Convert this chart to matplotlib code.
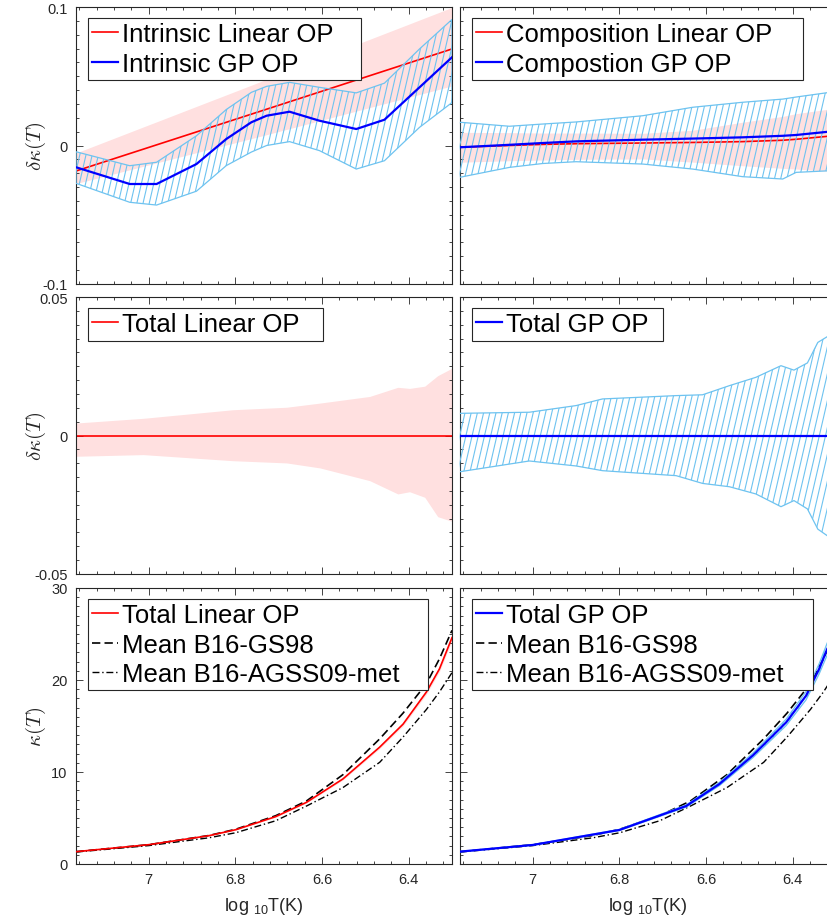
import numpy as np
import matplotlib
matplotlib.use('Agg')
import matplotlib.pyplot as plt
from matplotlib.ticker import MultipleLocator, FixedLocator, FuncFormatter
from matplotlib.collections import LineCollection

plt.rcParams['font.family'] = ['Liberation Sans', 'DejaVu Sans']
plt.rcParams['mathtext.fontset'] = 'custom'
plt.rcParams['mathtext.rm'] = 'Liberation Sans'
plt.rcParams['mathtext.it'] = 'Liberation Sans:italic'
plt.rcParams['axes.unicode_minus'] = False

# ---- data ----
# row 1, intrinsic
int_lin_T = [7.168, 6.728, 6.300]
int_lin = [-0.0184, 0.0262, 0.0697]
int_lin_hi = [-0.0054, 0.0478, 0.0997]
int_lin_lo = [-0.0275, 0.0078, 0.0430]

int_gp_T = [7.168, 7.044, 6.982, 6.890, 6.821, 6.763, 6.728, 6.675, 6.606, 6.521, 6.456, 6.375, 6.300]
int_gp = [-0.0157, -0.0278, -0.0278, -0.0134, 0.0047, 0.0168, 0.0215, 0.0244, 0.0179, 0.0119, 0.0186, 0.0420, 0.0637]
int_gp_hi = [-0.0045, -0.0146, -0.0121, 0.0070, 0.0260, 0.0384, 0.0427, 0.0456, 0.0420, 0.0380, 0.0450, 0.0697, 0.0910]
int_gp_lo = [-0.0273, -0.0410, -0.0430, -0.0330, -0.0145, -0.0047, 0.0000, 0.0028, -0.0037, -0.0170, -0.0110, 0.0131, 0.0310]

# row 1, composition
comp_T = [7.169, 7.054, 6.977, 6.900, 6.746, 6.631, 6.516, 6.423, 6.392, 6.300]
comp_lin = [-0.0013, 0.0000, 0.0008, 0.0013, 0.0018, 0.0022, 0.0028, 0.0038, 0.0045, 0.0072]
comp_lin_hi = [0.0095, 0.0093, 0.0090, 0.0090, 0.0088, 0.0110, 0.0168, 0.0210, 0.0230, 0.0270]
comp_lin_lo = [-0.0121, -0.0110, -0.0105, -0.0100, -0.0097, -0.0120, -0.0146, -0.0165, -0.0170, -0.0190]
comp_gp = [-0.0013, 0.0005, 0.0018, 0.0030, 0.0042, 0.0050, 0.0059, 0.0070, 0.0076, 0.0105]
comp_gp_hi = [0.0168, 0.0139, 0.0155, 0.0170, 0.0215, 0.0276, 0.0312, 0.0335, 0.0350, 0.0390]
comp_gp_lo = [-0.0230, -0.0158, -0.0130, -0.0117, -0.0134, -0.0170, -0.0225, -0.0242, -0.0194, -0.0180]

# row 2, total
tot_lin_T = [7.168, 7.013, 6.806, 6.682, 6.605, 6.490, 6.425, 6.398, 6.363, 6.333, 6.300]
tot_lin = [0, 0, 0, 0, 0, 0, 0, 0, 0, 0, 0]
tot_lin_hi = [0.0045, 0.0062, 0.0093, 0.0102, 0.0117, 0.0141, 0.0174, 0.0170, 0.0178, 0.0216, 0.0243]
tot_lin_lo = [-0.0075, -0.0069, -0.0091, -0.0099, -0.0117, -0.0163, -0.0211, -0.0203, -0.0223, -0.0293, -0.0310]

tot_gp_T = [7.169, 7.008, 6.900, 6.839, 6.669, 6.608, 6.546, 6.485, 6.427, 6.397, 6.366, 6.342, 6.320, 6.300]
tot_gp = [0, 0, 0, 0, 0, 0, 0, 0, 0, 0, 0, 0, 0, 0]
tot_gp_hi = [0.0080, 0.0084, 0.0108, 0.0132, 0.0144, 0.0147, 0.0180, 0.0210, 0.0252, 0.0236, 0.0262, 0.0336, 0.0357, 0.0370]
tot_gp_lo = [-0.0131, -0.0092, -0.0110, -0.0127, -0.0145, -0.0173, -0.0185, -0.0211, -0.0257, -0.0235, -0.0265, -0.0338, -0.0362, -0.0370]

# row 3, kappa
kap_T = [7.168, 7.000, 6.861, 6.799, 6.707, 6.636, 6.552, 6.467, 6.413, 6.359, 6.329, 6.300]
kap_lin = [1.34, 2.10, 3.08, 3.73, 5.15, 6.70, 9.24, 12.7, 15.2, 18.7, 21.2, 24.6]
kap_lin_err = [0.02, 0.03, 0.04, 0.05, 0.07, 0.09, 0.12, 0.16, 0.2, 0.25, 0.3, 0.35]
kap_gs98 = [1.34, 2.10, 3.10, 3.78, 5.25, 6.85, 9.70, 13.6, 16.4, 19.6, 22.3, 25.4]
kap_agss = [1.30, 2.00, 2.85, 3.40, 4.70, 6.30, 8.30, 11.05, 13.8, 16.8, 18.7, 20.8]

kap_gp_T = [7.169, 7.000, 6.800, 6.646, 6.569, 6.492, 6.415, 6.369, 6.339, 6.320, 6.300]
kap_gp = [1.34, 2.07, 3.70, 6.30, 8.70, 11.8, 15.4, 18.3, 21.2, 23.4, 25.0]
kap_gp_err = [0.02, 0.03, 0.06, 0.12, 0.18, 0.25, 0.35, 0.45, 0.55, 0.65, 0.75]

xticks = [7, 6.8, 6.6, 6.4]

PINK = '#FFE0E0'
HATCH = '#6EC3F0'
RED = '#FF0000'
BLUE = '#0000FF'
AXC = '#262626'


def hatch_band(ax, x, lo, hi):
    band = ax.fill_between(x, lo, hi, facecolor='none', edgecolor=HATCH, lw=0.9, zorder=3)
    step = 6.2 / 376
    segs = [[(t, 0), (t + 0.17, 1)] for t in np.arange(-0.3, 1.1, step)]
    lc = LineCollection(segs, colors=HATCH, linewidths=0.8, transform=ax.transAxes, zorder=3)
    path = band.get_paths()[0]
    lc.set_clip_path(path, ax.transData)
    ax.add_collection(lc)


def fmt(v, pos):
    return '%g' % v


def style(ax, ylim, ymajor, yminor, show_y, show_x):
    ax.set_xlim(7.168, 6.30)
    ax.set_ylim(*ylim)
    ax.xaxis.set_major_locator(FixedLocator(xticks))
    ax.xaxis.set_minor_locator(MultipleLocator(0.04))
    ax.yaxis.set_major_locator(FixedLocator(ymajor))
    ax.yaxis.set_minor_locator(MultipleLocator(yminor))
    ax.yaxis.set_major_formatter(FuncFormatter(fmt))
    ax.xaxis.set_major_formatter(FuncFormatter(fmt))
    ax.tick_params(which='both', direction='in', top=True, right=True, color=AXC,
                   labelcolor=AXC, labelsize=10.5, pad=6, width=0.6)
    ax.tick_params(which='major', length=5)
    ax.tick_params(which='minor', length=2.5)
    if not show_y:
        ax.tick_params(labelleft=False)
    if not show_x:
        ax.tick_params(labelbottom=False)
    for sp in ax.spines.values():
        sp.set_color(AXC)
        sp.set_linewidth(0.8)


def legend(ax, width):
    leg = ax.legend(loc='upper left', bbox_to_anchor=(0.032, 0.959, width, 0.0), mode='expand',
                    borderaxespad=0, fontsize=18.5, handlelength=1.0, handletextpad=0.15,
                    labelspacing=0.2, borderpad=0.16, fancybox=False, framealpha=1,
                    edgecolor=AXC)
    leg.get_frame().set_linewidth(0.8)
    leg.set_zorder(10)
    return leg


fig = plt.figure(figsize=(8.28, 9.2), dpi=100)
W = 376 / 828
lefts = [76 / 828, 460 / 828]
bottoms = [(920 - 285) / 920, (920 - 575) / 920, (920 - 865) / 920]
heights = [277 / 920, 277 / 920, 276 / 920]
axs = [[fig.add_axes([l, b, W, h]) for l in lefts] for b, h in zip(bottoms, heights)]

ylab = r'$\delta\kappa(T)$'

# row 1 left
ax = axs[0][0]
ax.fill_between(int_lin_T, int_lin_lo, int_lin_hi, color=PINK, lw=0, zorder=1)
ax.plot(int_lin_T, int_lin, color=RED, lw=1.2, zorder=2, label='Intrinsic Linear OP')
hatch_band(ax, int_gp_T, int_gp_lo, int_gp_hi)
ax.plot(int_gp_T, int_gp, color=BLUE, lw=1.6, zorder=4, label='Intrinsic GP OP')
style(ax, (-0.1, 0.1), [-0.1, 0, 0.1], 0.01, True, False)
legend(ax, 0.726)

# row 1 right
ax = axs[0][1]
ax.fill_between(comp_T, comp_lin_lo, comp_lin_hi, color=PINK, lw=0, zorder=1)
ax.plot(comp_T, comp_lin, color=RED, lw=1.2, zorder=2, label='Composition Linear OP')
hatch_band(ax, comp_T, comp_gp_lo, comp_gp_hi)
ax.plot(comp_T, comp_gp, color=BLUE, lw=1.6, zorder=4, label='Compostion GP OP')
style(ax, (-0.1, 0.1), [-0.1, 0, 0.1], 0.01, False, False)
legend(ax, 0.881)

# row 2 left
ax = axs[1][0]
ax.fill_between(tot_lin_T, tot_lin_lo, tot_lin_hi, color=PINK, lw=0, zorder=1)
ax.plot(tot_lin_T, tot_lin, color=RED, lw=1.2, zorder=2, label='Total Linear OP')
style(ax, (-0.05, 0.05), [-0.05, 0, 0.05], 0.005, True, False)
legend(ax, 0.624)

# row 2 right
ax = axs[1][1]
hatch_band(ax, tot_gp_T, tot_gp_lo, tot_gp_hi)
ax.plot(tot_gp_T, tot_gp, color=BLUE, lw=1.6, zorder=4, label='Total GP OP')
style(ax, (-0.05, 0.05), [-0.05, 0, 0.05], 0.005, False, False)
legend(ax, 0.507)

# row 3 left
ax = axs[2][0]
lo = np.array(kap_lin) - np.array(kap_lin_err)
hi = np.array(kap_lin) + np.array(kap_lin_err)
ax.fill_between(kap_T, lo, hi, color=PINK, lw=0, zorder=1)
ax.plot(kap_T, kap_lin, color=RED, lw=1.2, zorder=3, label='Total Linear OP')
ax.plot(kap_T, kap_gs98, color='k', lw=1.2, ls=(0, (5, 2.5)), zorder=2, label='Mean B16-GS98')
ax.plot(kap_T, kap_agss, color='k', lw=1.0, ls=(0, (5, 2, 1, 2)), zorder=2, label='Mean B16-AGSS09-met')
style(ax, (0, 30), [0, 10, 20, 30], 1, True, True)
legend(ax, 0.905)

# row 3 right
ax = axs[2][1]
lo = np.array(kap_gp) - np.array(kap_gp_err)
hi = np.array(kap_gp) + np.array(kap_gp_err)
hatch_band(ax, kap_gp_T, lo, hi)
ax.plot(kap_gp_T, kap_gp, color=BLUE, lw=1.6, zorder=4, label='Total GP OP')
ax.plot(kap_T, kap_gs98, color='k', lw=1.2, ls=(0, (5, 2.5)), zorder=2, label='Mean B16-GS98')
ax.plot(kap_T, kap_agss, color='k', lw=1.0, ls=(0, (5, 2, 1, 2)), zorder=2, label='Mean B16-AGSS09-met')
style(ax, (0, 30), [0, 10, 20, 30], 1, False, True)
legend(ax, 0.906)

for r in range(3):
    a = axs[r][0]
    a.set_ylabel(ylab if r < 2 else r'$\kappa(T)$', fontsize=15, math_fontfamily='cm', color=AXC)
    a.yaxis.set_label_coords(-0.075, 0.5)
for a in axs[2]:
    a.set_xlabel('log $_{10}$T(K)', fontsize=13, color=AXC, labelpad=6)

fig.savefig('out.png', dpi=100)
